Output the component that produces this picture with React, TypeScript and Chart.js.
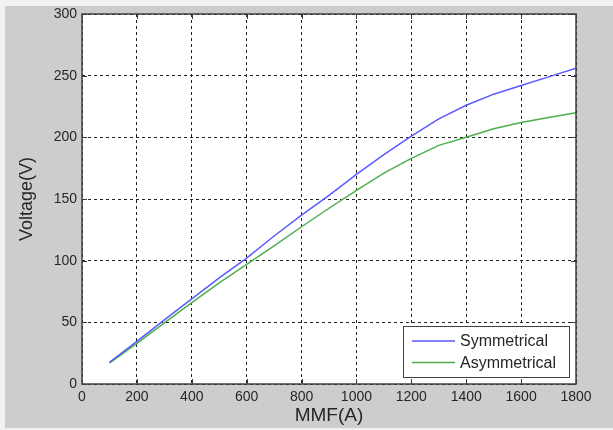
import React, { useEffect, useRef } from "react";
import { Chart, registerables } from "chart.js";

Chart.register(...registerables);

const mmf = [100, 200, 300, 400, 500, 600, 700, 800, 900, 1000, 1100, 1200, 1300, 1400, 1500, 1600, 1700, 1800];
const symmetrical = [17.5, 34.5, 52, 69, 86, 102, 120, 137, 153, 170, 186, 201, 215, 226, 235, 242, 249, 256];
const asymmetrical = [17, 33, 49.5, 66, 82, 97, 112, 127.5, 142.5, 157, 171, 183, 193.5, 200, 207, 212, 216, 220];
const seriesNames = ["Symmetrical", "Asymmetrical"];
const seriesColors = ["#5a5aff", "#4caf4c"];
const xTitle = "MMF(A)";
const yTitle = "Voltage(V)";

const TEXT = "#262626";
const FONT = "'Liberation Sans', Arial, sans-serif";

const framePlugin = {
  id: "frame",
  beforeDraw(chart: any) {
    const ctx = chart.ctx;
    const W = chart.width;
    const H = chart.height;
    ctx.save();
    ctx.fillStyle = "#f2f2f2";
    ctx.fillRect(0, 0, W, H);
    ctx.fillStyle = "#cdcdcd";
    ctx.fillRect(5, 6, W - 5, H - 8);
    const a = chart.chartArea;
    ctx.fillStyle = "#ffffff";
    ctx.fillRect(a.left, a.top, a.right - a.left, a.bottom - a.top);
    ctx.restore();
  },
  afterDraw(chart: any) {
    const ctx = chart.ctx;
    const a = chart.chartArea;
    const xs = chart.scales.x;
    const ys = chart.scales.y;
    ctx.save();
    ctx.strokeStyle = "#3a3a3a";
    ctx.lineWidth = 1;
    ctx.setLineDash([]);
    const tl = 5;
    ctx.beginPath();
    xs.ticks.forEach((t: any) => {
      const px = Math.round(xs.getPixelForValue(t.value)) + 0.5;
      ctx.moveTo(px, a.bottom);
      ctx.lineTo(px, a.bottom - tl);
      ctx.moveTo(px, a.top);
      ctx.lineTo(px, a.top + tl);
    });
    ys.ticks.forEach((t: any) => {
      const py = Math.round(ys.getPixelForValue(t.value)) + 0.5;
      ctx.moveTo(a.left, py);
      ctx.lineTo(a.left + tl, py);
      ctx.moveTo(a.right, py);
      ctx.lineTo(a.right - tl, py);
    });
    ctx.stroke();
    ctx.lineWidth = 1.5;
    ctx.strokeStyle = "#404040";
    ctx.strokeRect(a.left, a.top, a.right - a.left, a.bottom - a.top);

    // legend
    const lx = 403, ly = 326, lw = 166, lh = 51;
    ctx.fillStyle = "#ffffff";
    ctx.fillRect(lx, ly, lw, lh);
    ctx.lineWidth = 1;
    ctx.strokeStyle = "#404040";
    ctx.strokeRect(lx + 0.5, ly + 0.5, lw, lh);
    ctx.font = "16px " + FONT;
    ctx.textBaseline = "middle";
    ctx.textAlign = "left";
    chart.data.datasets.forEach((ds: any, i: number) => {
      const cy = ly + 15 + i * 21.5;
      ctx.strokeStyle = ds.borderColor;
      ctx.lineWidth = 1.5;
      ctx.beginPath();
      ctx.moveTo(412, cy);
      ctx.lineTo(455, cy);
      ctx.stroke();
      ctx.fillStyle = TEXT;
      ctx.fillText(ds.label, 460, cy + 1);
    });
    ctx.restore();
  },
};

export default function App() {
  const ref = useRef<HTMLCanvasElement | null>(null);
  useEffect(() => {
    document.body.style.margin = "0";
    const canvas = ref.current!;
    const chart = new Chart(canvas, {
      type: "line",
      data: {
        datasets: [
          {
            label: seriesNames[0],
            data: mmf.map((x, i) => ({ x, y: symmetrical[i] })),
            borderColor: seriesColors[0],
            borderWidth: 1.5,
            pointRadius: 0,
            tension: 0,
          },
          {
            label: seriesNames[1],
            data: mmf.map((x, i) => ({ x, y: asymmetrical[i] })),
            borderColor: seriesColors[1],
            borderWidth: 1.5,
            pointRadius: 0,
            tension: 0,
          },
        ],
      },
      options: {
        animation: false,
        responsive: false,
        devicePixelRatio: 1,
        layout: { padding: { left: 0, top: 14, right: 37, bottom: 0 } },
        plugins: { legend: { display: false }, tooltip: { enabled: false } },
        scales: {
          x: {
            type: "linear",
            min: 0,
            max: 1800,
            ticks: {
              stepSize: 200,
              color: TEXT,
              padding: 5,
              maxRotation: 0,
              callback: (v: any) => String(v),
              font: { family: FONT, size: 14 },
            },
            grid: {
              color: "#222222",
              lineWidth: 1,
              drawTicks: false,
            },
            border: { display: false, dash: [3, 3] },
            title: {
              display: true,
              text: xTitle,
              color: TEXT,
              font: { family: FONT, size: 19 },
              padding: { top: 0, bottom: 3 },
            },
            afterFit: (s: any) => {
              s.height = 46;
            },
          },
          y: {
            type: "linear",
            min: 0,
            max: 300,
            ticks: {
              stepSize: 50,
              color: TEXT,
              padding: 5,
              callback: (v: any) => String(v),
              font: { family: FONT, size: 14 },
            },
            grid: {
              color: "#222222",
              lineWidth: 1,
              drawTicks: false,
            },
            border: { display: false, dash: [3, 3] },
            title: {
              display: true,
              text: yTitle,
              color: TEXT,
              font: { family: FONT, size: 18 },
              padding: { top: 16, bottom: 0 },
            },
            afterFit: (s: any) => {
              s.width = 82;
            },
          },
        },
      },
      plugins: [framePlugin],
    });
    return () => chart.destroy();
  }, []);
  return (
    <div style={{ position: "absolute", left: 0, top: 0, width: 613, height: 430 }}>
      <canvas ref={ref} width={613} height={430} style={{ display: "block", width: 613, height: 430 }} />
    </div>
  );
}
